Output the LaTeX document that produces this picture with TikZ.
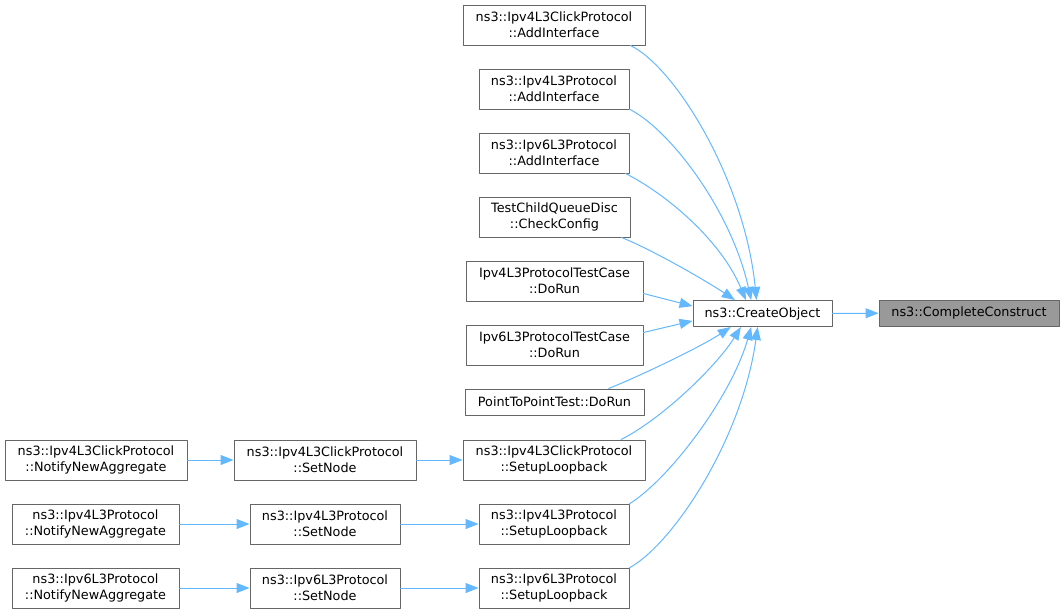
\documentclass[tikz,border=0pt]{standalone}
\usepackage{fontspec}
\setmainfont{DejaVu Sans}
\usetikzlibrary{arrows.meta}
\definecolor{edgeblue}{HTML}{63B8FF}
\definecolor{boxgray}{HTML}{666666}
\definecolor{hlgray}{HTML}{999999}
\begin{document}
\begin{tikzpicture}[x=1pt, y=-1pt, font=\fontsize{12.8}{16}\selectfont, line join=round, line cap=round,
		fn/.style={draw=boxgray, line width=1pt, fill=white, inner sep=0pt, align=center, minimum height=40pt},
		fnone/.style={fn, minimum height=26pt},
		edge/.style={draw=edgeblue, line width=1pt, -{Triangle[length=13pt,width=10pt]}}]
	\useasboundingbox (0,0) rectangle (1064,613);
	% rechte Seite
	\node[fnone, minimum width=139pt] (create) at (762.5,313.5) {ns3::CreateObject};
	\node[fnone, minimum width=180pt, fill=hlgray] (complete) at (969,313) {ns3::CompleteConstruct};
	% Aufrufer von CreateObject
	\node[fn, minimum width=182pt] (aiclick) at (554,25) {ns3::Ipv4L3ClickProtocol\\::AddInterface};
	\node[fn, minimum width=150pt] (aifour) at (554,89) {ns3::Ipv4L3Protocol\\::AddInterface};
	\node[fn, minimum width=150pt] (aisix) at (554,153) {ns3::Ipv6L3Protocol\\::AddInterface};
	\node[fn, minimum width=151pt] (checkcfg) at (554.5,217) {TestChildQueueDisc\\::CheckConfig};
	\node[fn, minimum width=177pt] (dorunfour) at (554.5,281) {Ipv4L3ProtocolTestCase\\::DoRun};
	\node[fn, minimum width=177pt] (dorunsix) at (554.5,345) {Ipv6L3ProtocolTestCase\\::DoRun};
	\node[fnone, minimum width=179pt] (ptp) at (554.5,402) {PointToPointTest::DoRun};
	\node[fn, minimum width=182pt] (suclick) at (554,460) {ns3::Ipv4L3ClickProtocol\\::SetupLoopback};
	\node[fn, minimum width=150pt] (sufour) at (554,524) {ns3::Ipv4L3Protocol\\::SetupLoopback};
	\node[fn, minimum width=150pt] (susix) at (554,588) {ns3::Ipv6L3Protocol\\::SetupLoopback};
	% SetNode und NotifyNewAggregate
	\node[fn, minimum width=182pt] (snclick) at (325,460) {ns3::Ipv4L3ClickProtocol\\::SetNode};
	\node[fn, minimum width=150pt] (snfour) at (325,524) {ns3::Ipv4L3Protocol\\::SetNode};
	\node[fn, minimum width=150pt] (snsix) at (325,588) {ns3::Ipv6L3Protocol\\::SetNode};
	\node[fn, minimum width=182pt] (naclick) at (96,460) {ns3::Ipv4L3ClickProtocol\\::NotifyNewAggregate};
	\node[fn, minimum width=167pt] (nafour) at (95.5,524) {ns3::Ipv4L3Protocol\\::NotifyNewAggregate};
	\node[fn, minimum width=167pt] (nasix) at (95.5,588) {ns3::Ipv6L3Protocol\\::NotifyNewAggregate};
	% Kanten
	\draw[edge] (create) -- (complete);
	\draw[edge] (aiclick.-15) .. controls +(45,22) and +(-12,-120) .. (create.114);
	\draw[edge] (aifour.-15) .. controls +(40,20) and +(-20,-90) .. (create.130);
	\draw[edge] (aisix.-16) .. controls +(40,20) and +(-25,-60) .. (create.141);
	\draw[edge] (checkcfg.-17) .. controls +(30,12) and +(-30,-20) .. (create.154);
	\draw[edge] (dorunfour.-8) -- (create.174);
	\draw[edge] (dorunsix.8) -- (create.-174);
	\draw[edge] (ptp.14) .. controls +(30,-12) and +(-30,20) .. (create.-157);
	\draw[edge] (suclick.17) .. controls +(40,-20) and +(-25,40) .. (create.-148);
	\draw[edge] (sufour.15) .. controls +(40,-25) and +(-20,70) .. (create.-130);
	\draw[edge] (susix.15) .. controls +(45,-25) and +(-15,110) .. (create.-110);
	\draw[edge] (snclick) -- (suclick);
	\draw[edge] (snfour) -- (sufour);
	\draw[edge] (snsix) -- (susix);
	\draw[edge] (naclick) -- (snclick);
	\draw[edge] (nafour) -- (snfour);
	\draw[edge] (nasix) -- (snsix);
\end{tikzpicture}
\end{document}
